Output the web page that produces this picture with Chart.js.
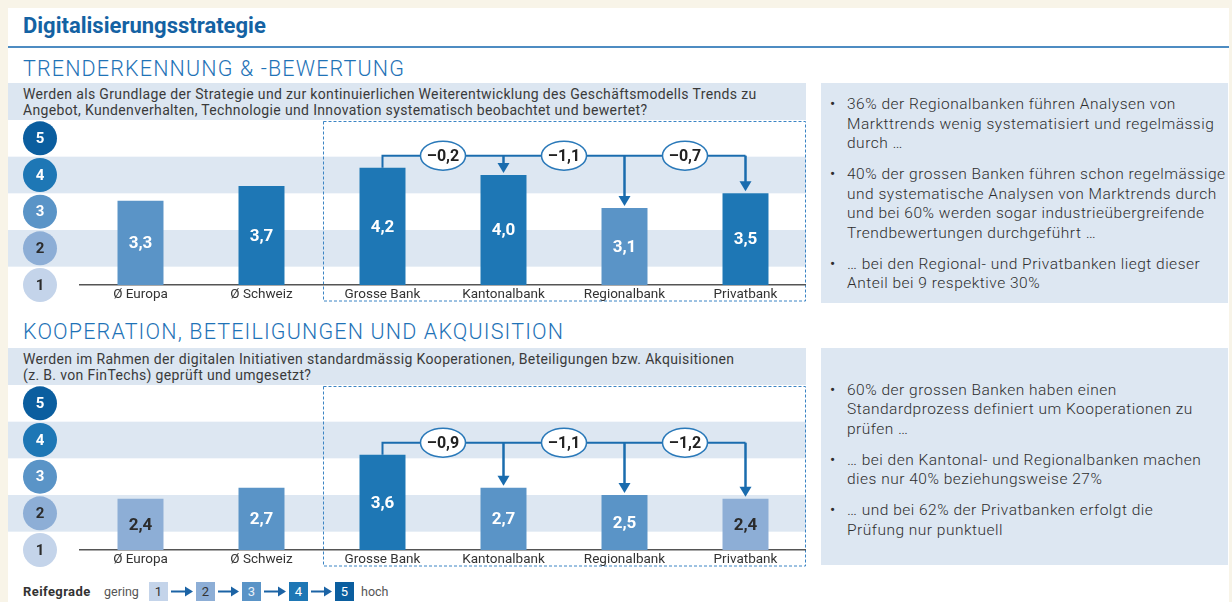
<!DOCTYPE html>
<html><head><meta charset="utf-8">
<script src="https://cdn.jsdelivr.net/npm/chart.js@4.4.1/dist/chart.umd.min.js"></script>
<style>
html,body{margin:0;padding:0;background:#f8f4e8;width:1232px;height:602px;overflow:hidden;font-family:Roboto,'Open Sans',sans-serif;}
.abs{position:absolute;white-space:nowrap;}
#card{left:8px;top:8px;width:1221px;height:594px;background:#fff;}
#title{left:23px;top:13px;font-size:22px;font-weight:700;color:#1462a3;letter-spacing:0px;line-height:26px;}
#rule{left:8px;top:46px;width:1221px;height:2px;background:#4d8cc2;}
.head{left:23px;font-size:21.5px;font-weight:300;color:#1f73b7;line-height:24px;letter-spacing:1.15px;}
.q{left:8px;width:798px;background:#dce6f1;}
.q div{padding:3px 0 0 15px;font-size:14px;line-height:16px;color:#3a3a3a;letter-spacing:0.35px;}
.panel{left:821px;width:407px;background:#dde7f2;}
.panel p{position:relative;margin:0 0 11.5px 0;padding-left:26px;font-size:15.5px;line-height:19.5px;font-weight:300;color:#2e2e2e;letter-spacing:0.5px;}
.panel p span{position:absolute;left:9px;top:0;font-weight:400;}
canvas{position:absolute;left:8px;}
.lg{top:583px;font-size:12.5px;line-height:18px;color:#555;}
.box{top:582px;width:19px;height:19px;font-size:13px;line-height:19px;text-align:center;}
</style></head>
<body>
<div id="card" class="abs"></div>
<div id="title" class="abs">Digitalisierungsstrategie</div>
<div id="rule" class="abs"></div>

<div class="abs head" style="top:57px;">TRENDERKENNUNG &amp; -BEWERTUNG</div>
<div class="abs q" style="top:83px;height:37px;"><div>Werden als Grundlage der Strategie und zur kontinuierlichen Weiterentwicklung des Geschäftsmodells Trends zu<br>Angebot, Kundenverhalten, Technologie und Innovation systematisch beobachtet und bewertet?</div></div>
<canvas id="c1" width="798" height="184" style="top:120px;"></canvas>
<div class="abs panel" style="top:83px;height:220px;"><div style="padding-top:12px;">
<p><span>•</span>36% der Regionalbanken führen Analysen von<br>Markttrends wenig systematisiert und regelmässig<br>durch …</p>
<p><span>•</span>40% der grossen Banken führen schon regelmässige<br>und systematische Analysen von Marktrends durch<br>und bei 60% werden sogar industrieübergreifende<br>Trendbewertungen durchgeführt …</p>
<p><span>•</span>… bei den Regional- und Privatbanken liegt dieser<br>Anteil bei 9 respektive 30%</p>
</div></div>

<div class="abs head" style="top:320px;">KOOPERATION, BETEILIGUNGEN UND AKQUISITION</div>
<div class="abs q" style="top:348px;height:37px;"><div>Werden im Rahmen der digitalen Initiativen standardmässig Kooperationen, Beteiligungen bzw. Akquisitionen<br>(z. B. von FinTechs) geprüft und umgesetzt?</div></div>
<canvas id="c2" width="798" height="184" style="top:385px;"></canvas>
<div class="abs panel" style="top:348px;height:217px;"><div style="padding-top:32.5px;">
<p><span>•</span>60% der grossen Banken haben einen<br>Standardprozess definiert um Kooperationen zu<br>prüfen …</p>
<p><span>•</span>… bei den Kantonal- und Regionalbanken machen<br>dies nur 40% beziehungsweise 27%</p>
<p><span>•</span>… und bei 62% der Privatbanken erfolgt die<br>Prüfung nur punktuell</p>
</div></div>

<div class="abs lg" style="left:23px;font-weight:700;color:#333;font-size:13px;letter-spacing:0.4px;">Reifegrade</div>
<div class="abs lg" style="left:104px;">gering</div>
<div id="legendBoxes"></div>
<div class="abs lg" style="left:361px;">hoch</div>
<svg class="abs" style="left:0;top:580px;" width="400" height="22" id="legendArrows"></svg>

<script>
// ---- data ----
const categories = ['Ø Europa', 'Ø Schweiz', 'Grosse Bank', 'Kantonalbank', 'Regionalbank', 'Privatbank'];
const trendValues = [3.3, 3.7, 4.2, 4.0, 3.1, 3.5];
const koopValues = [2.4, 2.7, 3.6, 2.7, 2.5, 2.4];
const levelTicks = [1, 2, 3, 4, 5];
const compareIndex = 2; // differences relative to "Grosse Bank"

// ---- styles ----
const levelColors = {1: '#c4d4ea', 2: '#8daed6', 3: '#5a94c7', 4: '#1e77b5', 5: '#0b5e9f'};
const levelText = {1: '#2b2b2b', 2: '#2b2b2b', 3: '#ffffff', 4: '#ffffff', 5: '#ffffff'};
const bandColor = '#dde7f2';
const arrowColor = '#1a6cae';
const FONT = 'Roboto, "Open Sans", sans-serif';

const fmt = v => v.toFixed(1).replace('.', ',');
const fmtDiff = d => (d < 0 ? '–' : '+') + Math.abs(d).toFixed(1).replace('.', ',');
const levelOf = v => Math.min(5, Math.max(1, Math.round(v)));

const decor = {
  id: 'decor',
  beforeDraw(chart) {
    const {ctx, chartArea: ca, scales: {x, y}} = chart;
    ctx.save();
    levelTicks.forEach(k => {
      if (k % 2 === 0) {
        const t = y.getPixelForValue(k + 0.5), b = y.getPixelForValue(k - 0.5);
        ctx.fillStyle = bandColor;
        ctx.fillRect(0, t, ca.right, b - t);
      }
    });
    levelTicks.forEach(k => {
      const cy = y.getPixelForValue(k);
      ctx.beginPath();
      ctx.arc(32, cy, 17, 0, Math.PI * 2);
      ctx.fillStyle = levelColors[k];
      ctx.fill();
      ctx.fillStyle = levelText[k];
      ctx.font = 'bold 15px ' + FONT;
      ctx.textAlign = 'center';
      ctx.textBaseline = 'middle';
      ctx.fillText(String(k), 32, cy + 1);
    });
    const left = Math.round((x.getPixelForValue(compareIndex - 1) + x.getPixelForValue(compareIndex)) / 2) + 1;
    ctx.setLineDash([3, 2]);
    ctx.strokeStyle = '#3b84c4';
    ctx.lineWidth = 1;
    ctx.strokeRect(left + 0.5, 1.5, ca.right - 1 - left, 179.5);
    ctx.restore();
  },
  afterDatasetsDraw(chart) {
    const {ctx, chartArea: ca} = chart;
    const meta = chart.getDatasetMeta(0);
    const vals = chart.data.datasets[0].data;
    const bars = meta.data;
    ctx.save();
    ctx.textAlign = 'center';
    ctx.textBaseline = 'middle';
    bars.forEach((bar, i) => {
      const v = vals[i];
      const base = Math.min(bar.base, ca.bottom);
      ctx.fillStyle = levelText[levelOf(v)];
      ctx.font = 'bold 17px ' + FONT;
      ctx.fillText(fmt(v), bar.x, (bar.y + base) / 2 + 1);
    });
    const b0 = bars[compareIndex];
    const ly = b0.y - 12;
    const last = bars[bars.length - 1];
    ctx.strokeStyle = arrowColor;
    ctx.fillStyle = arrowColor;
    ctx.lineWidth = 2;
    ctx.beginPath();
    ctx.moveTo(b0.x, b0.y);
    ctx.lineTo(b0.x, ly);
    ctx.lineTo(last.x, ly);
    ctx.stroke();
    for (let i = compareIndex + 1; i < bars.length; i++) {
      const bar = bars[i];
      const tip = bar.y - 2;
      ctx.lineWidth = 2.5;
      ctx.beginPath();
      ctx.moveTo(bar.x, ly);
      ctx.lineTo(bar.x, tip - 8);
      ctx.stroke();
      ctx.beginPath();
      ctx.moveTo(bar.x - 6, tip - 10);
      ctx.lineTo(bar.x + 6, tip - 10);
      ctx.lineTo(bar.x, tip);
      ctx.closePath();
      ctx.fill();
    }
    for (let i = compareIndex + 1; i < bars.length; i++) {
      const mx = (bars[i - 1].x + bars[i].x) / 2;
      ctx.beginPath();
      ctx.ellipse(mx, ly, 22.5, 14.5, 0, 0, Math.PI * 2);
      ctx.fillStyle = '#ffffff';
      ctx.fill();
      ctx.lineWidth = 1.5;
      ctx.strokeStyle = '#2a79b9';
      ctx.stroke();
      ctx.fillStyle = '#222222';
      ctx.font = 'bold 16px ' + FONT;
      ctx.fillText(fmtDiff(vals[i] - vals[compareIndex]), mx, ly + 1);
    }
    ctx.restore();
  }
};

function makeChart(id, values) {
  return new Chart(document.getElementById(id), {
    type: 'bar',
    data: {
      labels: categories,
      datasets: [{
        data: values,
        base: levelTicks[0],
        backgroundColor: values.map(v => levelColors[levelOf(v)]),
        borderWidth: 0,
        barPercentage: 0.38,
        categoryPercentage: 1
      }]
    },
    options: {
      responsive: false,
      animation: false,
      devicePixelRatio: 1,
      layout: {padding: {left: 72, right: 0, top: 0, bottom: 0}},
      plugins: {legend: {display: false}, tooltip: {enabled: false}},
      scales: {
        y: {display: false, min: 1, max: 5.5},
        x: {
          grid: {display: false, drawTicks: false},
          border: {display: true, color: '#555555', width: 1.5},
          ticks: {color: '#333333', font: {family: FONT, size: 13.5}, padding: 2, maxRotation: 0},
          afterFit(scale) { scale.height = 19; }
        }
      }
    },
    plugins: [decor]
  });
}
makeChart('c1', trendValues);
makeChart('c2', koopValues);

// legend boxes
const boxLefts = [149, 196, 242, 289, 335];
const boxTextColors = {1: '#333', 2: '#333', 3: '#e9f0f8', 4: '#fff', 5: '#fff'};
const lb = document.getElementById('legendBoxes');
levelTicks.forEach((k, i) => {
  const d = document.createElement('div');
  d.className = 'abs box';
  d.style.left = boxLefts[i] + 'px';
  d.style.background = levelColors[k];
  d.style.color = boxTextColors[k];
  d.textContent = String(k);
  lb.appendChild(d);
});
const svg = document.getElementById('legendArrows');
let s = '';
for (let i = 0; i < boxLefts.length - 1; i++) {
  const x1 = boxLefts[i] + 22, x2 = boxLefts[i + 1] - 3, yy = 11.5;
  s += `<line x1="${x1}" y1="${yy}" x2="${x2 - 6}" y2="${yy}" stroke="#1b63a5" stroke-width="2"/>`;
  s += `<polygon points="${x2 - 8},${yy - 5} ${x2},${yy} ${x2 - 8},${yy + 5}" fill="#1b63a5"/>`;
}
svg.innerHTML = s;
</script>
</body></html>
